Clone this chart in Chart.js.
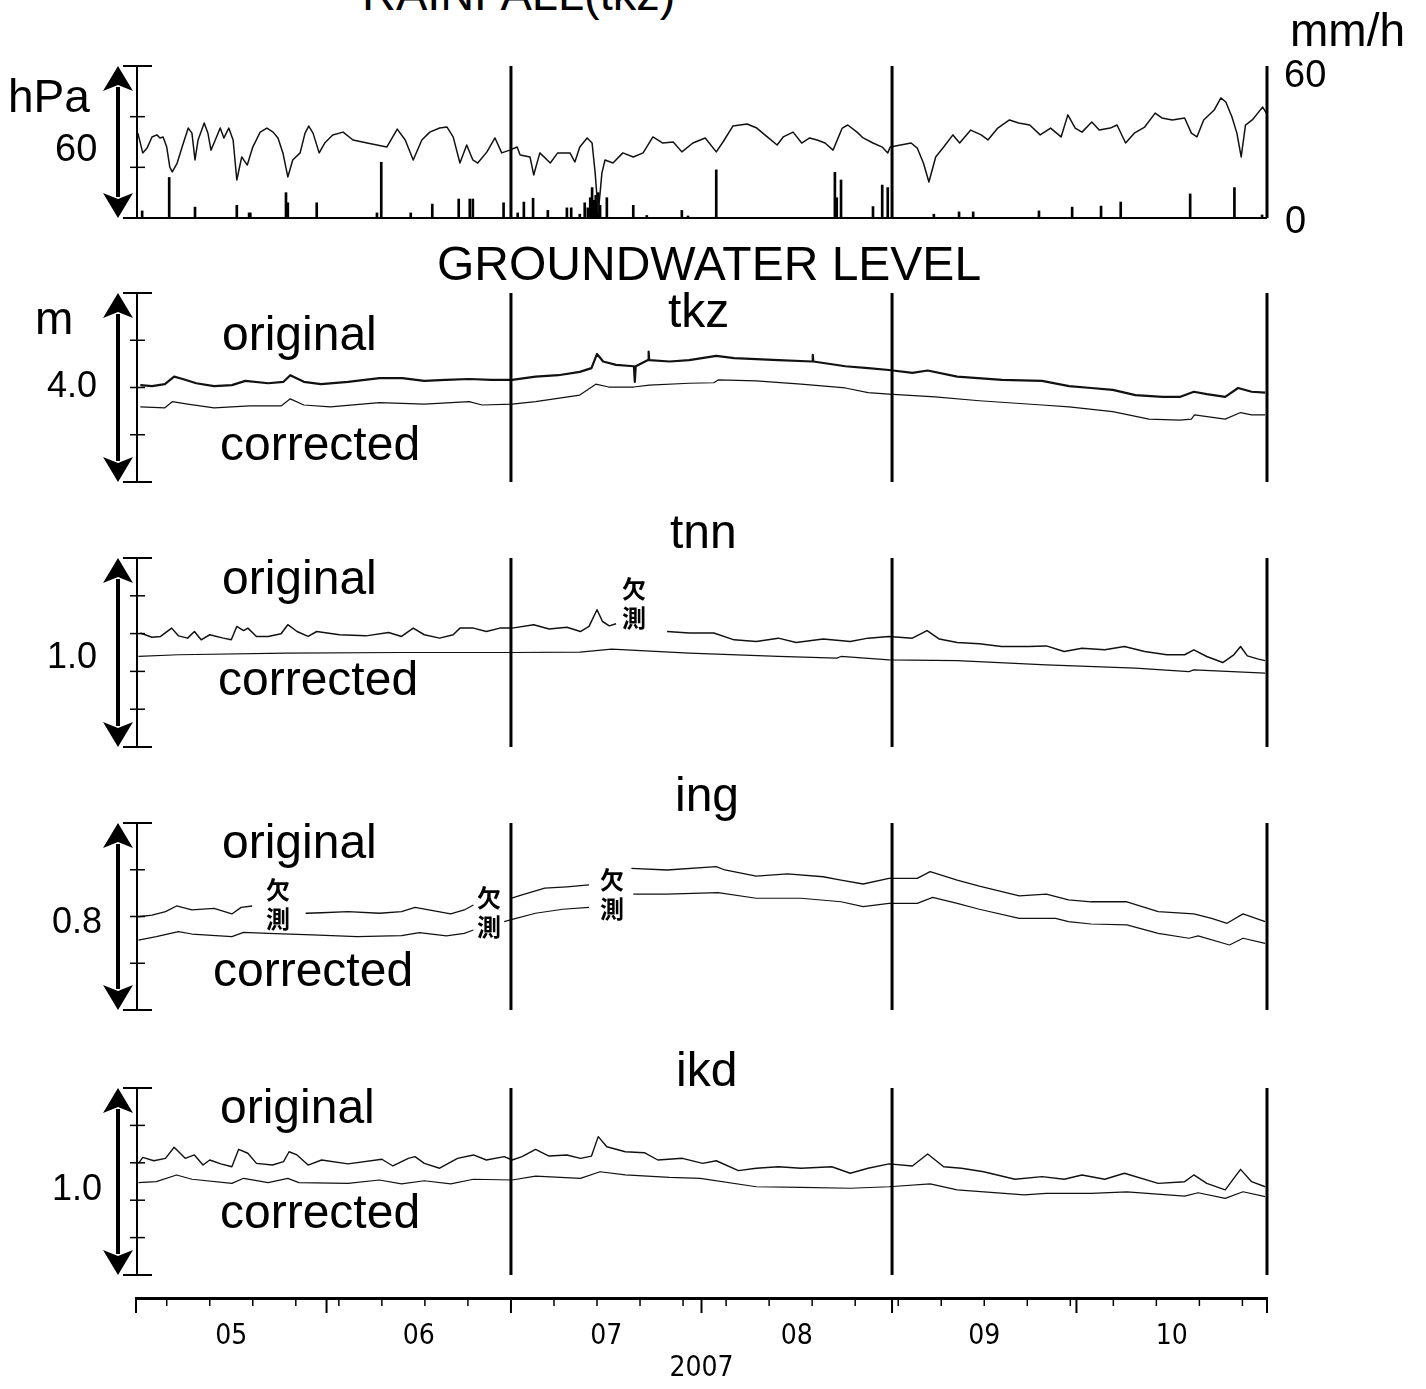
<!DOCTYPE html>
<html>
<head>
<meta charset="utf-8">
<script src="https://cdn.jsdelivr.net/npm/chart.js@4/dist/chart.umd.min.js"></script>
<style>
body { margin: 0; background: #fff; }
#page { position: relative; width: 1426px; height: 1389px; overflow: hidden; background: #fff; }
canvas { position: absolute; left: 0; }
.t { position: absolute; font-family: "Liberation Sans", Arial, Helvetica, sans-serif; line-height: 1; color: #000; white-space: nowrap; }
.k { position: absolute; font-family: "Noto Sans CJK JP", sans-serif; font-weight: 700; font-size: 24px; line-height: 29px; width: 26px; color: #000; }
</style>
</head>
<body>
<div id="page">
  <canvas id="cRain" width="1426" height="232" style="top:26px"></canvas>
  <canvas id="cTkz" width="1426" height="269" style="top:253px"></canvas>
  <canvas id="cTnn" width="1426" height="269" style="top:518px"></canvas>
  <canvas id="cIng" width="1426" height="267" style="top:783px"></canvas>
  <canvas id="cIkd" width="1426" height="267" style="top:1048px"></canvas>
  <canvas id="cAxis" width="1426" height="109" style="top:1280px"></canvas>

  <div class="t" style="left:362px;top:-30px;font-size:47px">RAINFALL(tkz)</div>
  <div class="t" style="left:8px;top:73px;font-size:46px">hPa</div>
  <div class="t" style="left:55px;top:129px;font-size:38px">60</div>
  <div class="t" style="left:1290px;top:7px;font-size:46px">mm/h</div>
  <div class="t" style="left:1284px;top:55px;font-size:38px">60</div>
  <div class="t" style="left:1285px;top:201px;font-size:38px">0</div>

  <div class="t" style="left:437px;top:240px;font-size:48px">GROUNDWATER LEVEL</div>

  <div class="t" style="left:668px;top:287px;font-size:48px">tkz</div>
  <div class="t" style="left:35px;top:295px;font-size:46px">m</div>
  <div class="t" style="left:47px;top:367px;font-size:36px">4.0</div>
  <div class="t" style="left:222px;top:310px;font-size:48px">original</div>
  <div class="t" style="left:220px;top:420px;font-size:48px">corrected</div>

  <div class="t" style="left:670px;top:508px;font-size:48px">tnn</div>
  <div class="t" style="left:47px;top:638px;font-size:36px">1.0</div>
  <div class="t" style="left:222px;top:554px;font-size:48px">original</div>
  <div class="t" style="left:218px;top:655px;font-size:48px">corrected</div>
  <div class="k" style="left:622px;top:573px">欠<br>測</div>

  <div class="t" style="left:675px;top:771px;font-size:48px">ing</div>
  <div class="t" style="left:52px;top:903px;font-size:36px">0.8</div>
  <div class="t" style="left:222px;top:818px;font-size:48px">original</div>
  <div class="t" style="left:213px;top:946px;font-size:48px">corrected</div>
  <div class="k" style="left:266px;top:874px">欠<br>測</div>
  <div class="k" style="left:477px;top:882px">欠<br>測</div>
  <div class="k" style="left:600px;top:864px">欠<br>測</div>

  <div class="t" style="left:676px;top:1046px;font-size:48px">ikd</div>
  <div class="t" style="left:52px;top:1170px;font-size:36px">1.0</div>
  <div class="t" style="left:220px;top:1083px;font-size:48px">original</div>
  <div class="t" style="left:220px;top:1188px;font-size:48px">corrected</div>
</div>

<script>
// x values are days since 2007-05-01
const MONTH_START = [0, 31, 61, 92, 123, 153, 184];
const MONTH_MID = [15.5, 46, 76.5, 107.5, 138, 168.5];
const MONTH_LABELS = ['05', '06', '07', '08', '09', '10'];
const SUNDAYS = [5, 12, 19, 26, 33, 40, 47, 54, 61, 68, 75, 82, 89, 96, 103, 110, 117, 124, 131, 138, 145, 152, 159, 166, 173, 180];
const DIVIDERS = [61, 123, 184];

// atmospheric pressure (hPa) and rainfall (mm/h) at tkz
const PRESS_DAY = [0.3,1.1,1.8,2.6,3.4,3.9,4.4,5.0,5.5,5.9,6.7,7.5,8.5,9.1,9.6,10.1,11.1,11.7,12.2,12.9,13.7,14.3,15.1,15.8,16.1,16.4,17.2,18.1,19.0,20.2,21.3,22.3,23.1,23.9,24.7,25.5,26.7,27.5,28.1,28.8,29.8,30.7,32.0,33.7,35.3,37.6,39.2,40.8,42.5,43.8,45.1,46.5,47.8,49.4,50.6,51.6,52.7,53.8,54.8,55.6,57.1,58.4,59.5,60.8,62.0,62.5,64.1,64.7,65.7,67.4,68.6,70.6,71.4,72.2,73.4,74.2,74.7,75.2,75.8,76.3,77.6,79.2,80.9,82.5,84.1,85.7,87.4,88.8,90.6,92.6,94.4,95.5,97.1,99.4,101.0,102.7,104.3,105.3,106.9,108.3,109.6,110.8,112.1,113.4,114.9,115.8,117.3,118.3,119.9,121.4,122.3,122.7,124.4,126.1,127.1,128.1,129.0,130.1,131.4,132.9,134.0,135.8,137.5,138.6,140.2,142.1,143.6,145.4,147.1,148.8,150.5,151.6,152.8,153.9,155.5,156.7,158.5,159.6,161.0,162.4,164.1,165.8,166.9,168.6,170.6,171.7,172.6,173.7,175.4,176.5,177.3,178.3,179.1,179.8,180.5,181.6,182.5,183.3,183.9];
const PRESS_HPA = [1013.5,1005.7,1007.6,1012.0,1012.8,1011.6,1012.0,1008.0,1000.1,998.2,1001.7,1008.0,1015.5,1013.5,1002.9,1010.8,1017.5,1013.5,1006.8,1010.8,1015.5,1011.6,1015.5,1010.8,1002.9,995.0,1004.1,1000.9,1008.0,1013.9,1015.5,1013.9,1011.6,1005.7,996.2,1002.9,1005.7,1013.5,1016.3,1013.5,1005.7,1009.6,1012.8,1013.9,1010.8,1009.6,1008.8,1008.0,1015.1,1010.8,1002.9,1010.8,1013.9,1015.5,1015.9,1012.0,1001.7,1008.8,1002.9,1001.7,1006.1,1011.6,1005.7,1006.8,1008.0,1004.9,1004.1,997.0,1005.7,1001.7,1005.7,1005.7,1002.1,1008.0,1011.6,1009.6,997.8,982.0,997.8,1002.9,1001.7,1005.7,1004.1,1005.7,1012.0,1009.6,1010.0,1006.1,1009.6,1011.6,1006.1,1010.0,1016.3,1017.1,1015.5,1012.0,1008.8,1012.0,1013.9,1009.6,1011.6,1010.8,1009.6,1006.8,1015.5,1016.7,1013.9,1011.6,1009.6,1008.0,1005.7,1008.0,1008.8,1009.6,1007.6,1001.7,994.2,1004.1,1008.0,1012.8,1009.6,1014.7,1012.8,1010.8,1015.5,1018.7,1017.5,1016.7,1012.8,1015.5,1012.0,1020.7,1015.5,1013.9,1017.9,1014.7,1015.5,1016.7,1009.6,1013.5,1015.9,1021.4,1019.5,1018.7,1019.5,1013.5,1012.0,1018.7,1022.6,1027.4,1025.8,1019.9,1013.5,1004.1,1016.7,1018.7,1021.4,1023.8,1021.4];
const RAIN_DAY = [1.0,5.4,9.6,16.4,18.4,18.6,24.4,24.7,29.4,39.2,39.9,44.7,48.2,52.5,54.3,54.8,59.8,62.1,63.1,64.6,67.0,70.1,70.8,72.2,73.0,73.5,73.9,74.2,74.5,74.8,75.2,75.5,76.6,80.9,83.1,88.8,89.8,94.4,113.7,114.0,114.7,119.9,121.4,122.3,129.8,133.9,136.2,146.9,152.3,157.0,160.2,171.5,178.7,183.2];
const RAIN_MM = [2.8,16,4.3,5,2,2,10,6,6,2,22,2,5.5,7.5,7.5,7.5,6,2,6.3,7.8,3,4,4,1.5,6,4,8,12,7,9,10,5,8,5,1,3,0.8,19,18,8,15,4.5,13,12,1.5,2.4,2.4,2.8,4.3,4.7,6.3,9.5,12,1.2];

// groundwater level (m), original and corrected, per well
const TKZ_O_DAY = [0.7,2.6,4.7,6.2,7.6,9.8,12.7,15.6,17.8,21.5,24.0,25.1,27.3,30.1,34.5,39.6,43.3,46.9,50.4,54.2,57.8,61.2,65.0,68.7,72.2,74.1,75.0,76.0,78.1,81.0,81.15,81.3,83.3,83.4,83.5,86.8,90.0,94.4,97.3,104.5,110.0,110.1,110.2,115.4,119.1,122.5,126.3,128.8,133.6,140.9,147.4,151.8,155.4,158.9,162.6,167.0,169.8,172.1,174.2,177.2,179.3,181.5,183.7];
const TKZ_O = [2.05,2.03,2.07,2.23,2.18,2.09,2.03,2.05,2.14,2.09,2.12,2.26,2.12,2.07,2.12,2.20,2.20,2.14,2.16,2.18,2.16,2.16,2.23,2.26,2.33,2.41,2.71,2.55,2.48,2.45,2.12,2.45,2.58,2.76,2.58,2.55,2.58,2.67,2.62,2.58,2.55,2.69,2.55,2.45,2.41,2.37,2.31,2.36,2.23,2.16,2.14,2.03,1.99,1.95,1.84,1.80,1.80,1.91,1.86,1.80,1.99,1.91,1.89];
const TKZ_C_DAY = [0.7,4.7,5.9,8.4,12.7,18.5,23.6,25.1,27.3,31.6,39.6,46.9,54.2,56.3,61.2,65.0,72.2,74.8,76.9,81.0,83.5,90.0,94.0,94.7,100.9,108.2,115.4,119.1,122.5,130.0,137.2,147.4,151.8,158.9,164.8,169.8,171.7,172.2,177.2,179.7,181.5,183.7];
const TKZ_C = [1.59,1.57,1.70,1.65,1.57,1.61,1.61,1.76,1.63,1.59,1.68,1.65,1.70,1.63,1.65,1.70,1.84,2.07,2.01,2.01,2.05,2.09,2.10,2.16,2.14,2.07,1.99,1.89,1.86,1.80,1.72,1.63,1.59,1.49,1.33,1.31,1.33,1.42,1.33,1.47,1.42,1.42];

const TNN_O_DAY = [0.7,2.6,4.0,5.8,6.9,8.4,9.5,10.6,12.0,14.2,15.5,16.4,17.5,18.2,19.6,21.5,23.6,24.7,26.2,28.0,29.4,33.1,37.4,41.1,43.2,45.1,46.9,49.4,51.6,52.7,54.9,57.0,59.2,61.2,64.7,67.2,70.1,72.3,73.7,75.0,75.9,77.0,78.1,79.0,86.4,90.0,94.0,97.3,100.9,104.5,107.4,111.8,116.2,119.1,122.5,126.3,128.7,130.7,133.6,137.2,140.8,145.2,148.1,151.0,153.9,157.6,160.8,164.1,167.7,170.6,172.1,174.2,176.8,178.6,179.7,180.8,182.6,183.7];
const TNN_O = [0.603,0.581,0.585,0.629,0.588,0.576,0.611,0.567,0.594,0.576,0.567,0.638,0.616,0.629,0.585,0.585,0.599,0.647,0.611,0.585,0.611,0.594,0.588,0.606,0.585,0.629,0.594,0.576,0.594,0.629,0.629,0.611,0.629,0.629,0.647,0.624,0.634,0.611,0.638,0.726,0.664,0.641,0.652,null,0.611,0.603,0.603,0.567,0.558,0.576,0.553,0.571,0.558,0.576,0.585,0.576,0.616,0.571,0.553,0.546,0.532,0.532,0.535,0.505,0.523,0.514,0.532,0.505,0.488,0.488,0.514,0.479,0.447,0.488,0.532,0.482,0.465,0.457];
const TNN_C_DAY = [0.4,6.9,24.4,43.2,61.2,72.2,77.4,90.0,104.5,114.0,114.7,122.5,133.6,148.1,162.6,171.3,172.1,183.7];
const TNN_C = [0.479,0.488,0.497,0.500,0.500,0.502,0.518,0.497,0.479,0.470,0.479,0.461,0.457,0.435,0.417,0.399,0.408,0.391];

const ING_O_DAY = [0.4,2.6,4.8,6.6,9.1,12.7,15.6,17.1,18.9,23.0,27.6,30.2,34.5,39.6,43.2,45.4,48.3,51.2,53.4,54.9,58.0,61.0,62.8,66.5,70.1,73.7,77.0,80.6,86.4,94.4,95.8,100.9,106.0,111.8,114.7,118.3,122.5,127.1,129.2,133.6,137.2,143.7,148.1,151.7,155.4,161.2,166.3,172.1,175.0,177.5,180.1,183.7];
const ING_O = [0.399,0.406,0.421,0.445,0.428,0.435,0.411,0.439,0.445,null,0.414,0.416,0.421,0.414,0.421,0.439,0.425,0.411,0.428,0.449,null,0.478,0.492,0.521,0.527,0.535,null,0.606,0.599,0.613,0.599,0.573,0.582,0.570,0.556,0.539,0.563,0.563,0.592,0.556,0.530,0.488,0.496,0.471,0.463,0.463,0.421,0.411,0.392,0.371,0.411,0.378];
const ING_C_DAY = [0.4,3.3,6.9,9.1,15.6,17.5,21.5,28.7,36.0,43.2,46.1,50.5,53.4,54.9,57.0,59.9,61.2,65.0,69.4,73.7,77.0,80.9,86.4,94.7,100.9,108.2,114.7,118.3,122.5,127.1,129.6,133.6,137.2,143.7,149.6,151.7,155.4,161.2,166.3,171.3,172.8,177.9,180.1,183.7];
const ING_C = [0.299,0.314,0.335,0.325,0.314,0.332,0.328,0.321,0.314,0.318,0.331,0.317,0.328,0.342,null,0.378,0.388,0.414,0.431,0.439,null,0.496,0.496,0.502,0.478,0.478,0.463,0.442,0.456,0.456,0.482,0.456,0.431,0.392,0.392,0.378,0.368,0.364,0.328,0.307,0.317,0.278,0.307,0.285];

const IKD_O_DAY = [0.4,1.1,2.9,4.8,6.2,8.0,9.5,10.9,12.0,13.8,15.6,16.7,18.2,19.6,22.2,24.0,24.9,26.2,28.0,30.2,34.5,40.0,41.8,44.3,45.4,46.9,49.4,52.3,54.9,57.0,59.9,61.2,62.8,65.0,67.2,70.1,72.3,74.1,75.2,76.6,79.6,82.7,84.9,88.9,92.2,94.4,98.0,100.9,104.5,108.2,113.2,116.2,119.1,122.5,126.3,128.8,131.4,134.3,137.9,143.0,147.4,151.0,153.9,157.6,160.8,166.3,170.6,172.1,174.2,177.2,179.7,181.5,183.7];
const IKD_O = [0.597,0.629,0.611,0.624,0.683,0.624,0.642,0.588,0.615,0.594,0.579,0.672,0.651,0.597,0.588,0.606,0.659,0.642,0.588,0.615,0.594,0.619,0.583,0.624,0.633,0.597,0.571,0.624,0.642,0.615,0.633,0.615,0.633,0.672,0.636,0.642,0.624,0.636,0.740,0.686,0.659,0.654,0.615,0.624,0.597,0.611,0.558,0.571,0.579,0.571,0.579,0.544,0.571,0.594,0.583,0.647,0.579,0.571,0.552,0.512,0.526,0.512,0.535,0.512,0.544,0.490,0.499,0.535,0.490,0.455,0.565,0.499,0.472];
const IKD_C_DAY = [0.4,3.3,6.6,9.1,15.6,17.5,21.5,24.7,26.5,34.5,39.6,43.2,46.9,51.2,54.9,61.2,65.0,72.3,75.5,79.6,86.8,91.8,100.9,108.2,116.2,122.5,129.2,133.6,144.5,148.1,155.4,161.2,170.6,172.8,177.2,180.1,183.7];
const IKD_C = [0.494,0.499,0.535,0.512,0.490,0.517,0.494,0.517,0.494,0.490,0.508,0.487,0.504,0.487,0.512,0.508,0.529,0.517,0.552,0.535,0.522,0.517,0.472,0.469,0.464,0.472,0.487,0.455,0.428,0.437,0.437,0.445,0.422,0.440,0.410,0.445,0.419];

const AXIS_FONT = '"Liberation Sans Narrow", "DejaVu Sans Condensed", "Liberation Sans", sans-serif';
const INK = '#111';
const PAD = 40;

const pts = (days, vals) => days.map((d, i) => ({ x: d, y: vals[i] }));

function seg(ctx, x1, y1, x2, y2, w) {
    ctx.lineWidth = w;
    ctx.beginPath();
    ctx.moveTo(x1, y1);
    ctx.lineTo(x2, y2);
    ctx.stroke();
}

// left scale bar with the double arrow, plus the month dividers
const framePlugin = {
    id: 'frame',
    afterDatasetsDraw(chart, args, opts) {
        const { ctx, chartArea: area } = chart;
        const x = chart.scales.x;
        const y = chart.scales[opts.axis];
        const top = y.getPixelForValue(y.max);
        const bot = y.getPixelForValue(y.min);
        const ax = x.getPixelForValue(0) + 1;
        ctx.save();
        ctx.strokeStyle = '#000';
        ctx.fillStyle = '#000';
        DIVIDERS.forEach(d => {
            const px = x.getPixelForValue(d);
            seg(ctx, px, top, px, bot, 3);
        });
        seg(ctx, ax, top, ax, bot, 2);
        seg(ctx, ax - 14, top, ax + 15, top, 2);
        seg(ctx, ax - 14, bot, ax + 15, bot, 2);
        (y.ticks || []).forEach(t => {
            if (t.value > y.min && t.value < y.max) {
                const py = y.getPixelForValue(t.value);
                seg(ctx, ax - 7, py, ax + 8, py, 1.5);
            }
        });
        if (opts.baseline) seg(ctx, ax - 14, bot, area.right, bot, 2);

        const arx = ax - 19, head = 25, half = 15;
        seg(ctx, arx, top + head - 4, arx, bot - head + 4, 4);
        ctx.beginPath();
        ctx.moveTo(arx, top);
        ctx.lineTo(arx + half, top + head);
        ctx.lineTo(arx, top + head - 6);
        ctx.lineTo(arx - half, top + head);
        ctx.closePath();
        ctx.fill();
        ctx.beginPath();
        ctx.moveTo(arx, bot);
        ctx.lineTo(arx + half, bot - head);
        ctx.lineTo(arx, bot - head + 6);
        ctx.lineTo(arx - half, bot - head);
        ctx.closePath();
        ctx.fill();
        ctx.restore();
    }
};

// weekly (Sunday) and month ticks under the time axis
const dayTicksPlugin = {
    id: 'dayTicks',
    afterDraw(chart) {
        const { ctx } = chart;
        const x = chart.scales.x;
        const base = chart.chartArea.bottom;
        ctx.save();
        ctx.strokeStyle = '#000';
        SUNDAYS.forEach(d => {
            const px = x.getPixelForValue(d);
            seg(ctx, px, base, px, base + 8, 1.5);
        });
        MONTH_START.forEach(d => {
            const px = x.getPixelForValue(d);
            seg(ctx, px, base, px, base + 15, 2);
        });
        ctx.restore();
    }
};

function lineSet(days, vals, width, axis) {
    return {
        type: 'line',
        data: pts(days, vals),
        yAxisID: axis || 'y',
        borderColor: INK,
        borderWidth: width,
        pointRadius: 0,
        tension: 0,
        spanGaps: false,
        borderJoinStyle: 'round',
    };
}

function baseOptions(yScales, frame) {
    return {
        responsive: false,
        animation: false,
        events: [],
        layout: { padding: { left: 136, right: 159, top: PAD, bottom: PAD } },
        plugins: { legend: { display: false }, tooltip: { enabled: false }, frame },
        scales: Object.assign({
            x: { type: 'linear', min: 0, max: 184, display: false, offset: false },
        }, yScales),
    };
}

// pressure + rainfall
new Chart(document.getElementById('cRain'), {
    type: 'line',
    data: {
        datasets: [
            lineSet(PRESS_DAY, PRESS_HPA, 1.5, 'yp'),
            {
                type: 'bar',
                data: pts(RAIN_DAY, RAIN_MM),
                yAxisID: 'yr',
                backgroundColor: '#000',
                barThickness: 2,
            },
        ],
    },
    options: baseOptions({
        yp: { type: 'linear', position: 'left', min: 980, max: 1040, display: false, ticks: { stepSize: 20 } },
        yr: { type: 'linear', position: 'right', min: 0, max: 60, display: false },
    }, { axis: 'yp', baseline: true }),
    plugins: [framePlugin],
});

function gwPanel(id, max, step, oDays, oVals, cDays, cVals, oWidth) {
    new Chart(document.getElementById(id), {
        type: 'line',
        data: { datasets: [lineSet(oDays, oVals, oWidth), lineSet(cDays, cVals, 1.2)] },
        options: baseOptions({
            y: { type: 'linear', min: 0, max, display: false, ticks: { stepSize: step } },
        }, { axis: 'y' }),
        plugins: [framePlugin],
    });
}

gwPanel('cTkz', 4.0, 1, TKZ_O_DAY, TKZ_O, TKZ_C_DAY, TKZ_C, 2.2);
gwPanel('cTnn', 1.0, 0.2, TNN_O_DAY, TNN_O, TNN_C_DAY, TNN_C, 1.5);
gwPanel('cIng', 0.8, 0.2, ING_O_DAY, ING_O, ING_C_DAY, ING_C, 1.3);
gwPanel('cIkd', 1.0, 0.2, IKD_O_DAY, IKD_O, IKD_C_DAY, IKD_C, 1.4);

// time axis
new Chart(document.getElementById('cAxis'), {
    type: 'line',
    data: { datasets: [] },
    options: {
        responsive: false,
        animation: false,
        events: [],
        layout: { padding: { left: 136, right: 159, top: 0, bottom: 0 } },
        plugins: { legend: { display: false }, tooltip: { enabled: false } },
        scales: {
            x: {
                type: 'linear', min: 0, max: 184, position: 'bottom', offset: false,
                afterBuildTicks: s => { s.ticks = MONTH_MID.map(v => ({ value: v })); },
                afterFit: s => { s.height = 91; },
                grid: { drawOnChartArea: false, drawTicks: false },
                border: { display: true, color: '#000', width: 3 },
                ticks: {
                    autoSkip: false, maxRotation: 0, padding: 22, color: '#000',
                    font: { family: AXIS_FONT, size: 28 },
                    callback: (v, i) => MONTH_LABELS[i],
                },
                title: { display: true, text: '2007', color: '#000', font: { family: AXIS_FONT, size: 28 }, padding: { top: 0, bottom: 3 } },
            },
            y: { display: false, min: 0, max: 1 },
        },
    },
    plugins: [dayTicksPlugin],
});
</script>
</body>
</html>
